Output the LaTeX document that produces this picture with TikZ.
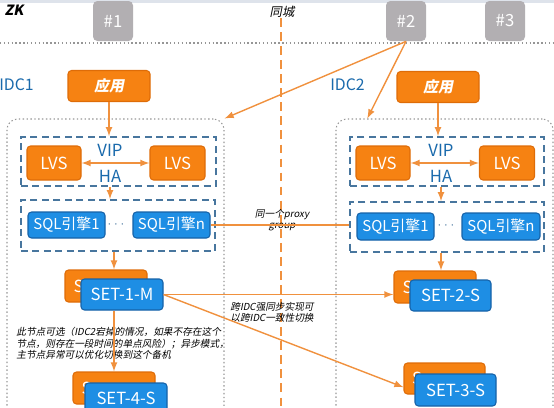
\documentclass[tikz,border=0pt]{standalone}
\usepackage{fontspec}
\usepackage{tikz}
\usetikzlibrary{arrows}
\newfontfamily\cjk{Noto Sans CJK SC}
\newfontfamily\cjkit[FakeSlant=0.2]{Noto Sans CJK SC}
\definecolor{orfill}{RGB}{246,130,18}
\definecolor{ordraw}{RGB}{222,108,8}
\definecolor{blfill}{RGB}{30,142,228}
\definecolor{bldraw}{RGB}{22,98,168}
\definecolor{grfill}{RGB}{178,175,178}
\definecolor{grpblue}{RGB}{72,118,158}
\definecolor{dotgray}{RGB}{150,150,150}
\definecolor{lnorange}{RGB}{240,145,62}
\definecolor{lblblue}{RGB}{26,106,172}
\definecolor{topband}{RGB}{222,227,235}

\begin{document}
\begin{tikzpicture}[x=0.02cm, y=-0.02cm, >=latex,
		every node/.style={font=\cjk, inner sep=0pt},
		wh/.style 2 args={minimum width=#1*0.02cm, minimum height=#2*0.02cm},
		gbox/.style={fill=grfill, rounded corners=2.5pt, text=white, font=\cjk\fontsize{9.5}{11}\selectfont},
		obox/.style={fill=orfill, draw=ordraw, line width=0.6pt, rounded corners=2pt, text=white, font=\cjk\fontsize{9.5}{11}\selectfont},
		bbox/.style={fill=blfill, draw=bldraw, line width=0.6pt, rounded corners=2pt, text=white, font=\cjk\fontsize{9.5}{11}\selectfont},
		sqlbox/.style={bbox, font=\cjk\fontsize{8.5}{10}\selectfont},
		appbox/.style={obox, font=\cjkit\bfseries\fontsize{8.5}{10}\selectfont},
		grp/.style={draw=grpblue, line width=0.9pt, dash pattern=on 4pt off 2.5pt},
		dc/.style={draw=dotgray, line width=0.6pt, dash pattern=on 0.8pt off 1.4pt, rounded corners=6pt},
		lbl/.style={text=lblblue, font=\cjk\fontsize{9}{11}\selectfont},
		gap/.style={text=grpblue, font=\fontsize{7}{8}\selectfont},
		note/.style={font=\cjkit\fontsize{5.5}{6.6}\selectfont, align=left},
		link/.style={draw=lnorange, line width=0.8pt},
	]
		\clip (0,0) rectangle (554,407);
		\fill[topband] (0,0) rectangle (554,3);
		
		\node[font=\cjkit\bfseries\fontsize{8}{10}\selectfont] (zk) at (14,10) {ZK};
		\node[font=\cjkit\fontsize{7}{9}\selectfont] (city) at (282,12) {同城};
		\node[gbox, wh={40}{40}] (n1) at (113,21) {\#1};
		\node[gbox, wh={40}{40}] (n2) at (406,21) {\#2};
		\node[gbox, wh={40}{40}] (n3) at (505,21) {\#3};
		
		\draw[dotgray, line width=0.6pt, dash pattern=on 0.8pt off 1.4pt] (0,43) -- (554,43);
		
		\node[dc, wh={217}{302}] (dc1) at (115.5,270) {};
		\node[dc, wh={217}{302}] (dc2) at (444.5,270) {};
		
		\draw[lnorange, line width=0.8pt, dash pattern=on 5pt off 3pt] (281,18) -- (281,410);
		
		\node[lbl, anchor=west] (idc1) at (-1,85) {IDC1};
		\node[lbl, anchor=west] (idc2) at (330,85) {IDC2};
		
		\node[appbox, wh={82}{31}] (app1) at (109,86) {应用};
		\node[appbox, wh={82}{31}] (app2) at (438,87) {应用};
		
		\node[grp, wh={195}{49}] (lvsg1) at (118.5,161.5) {};
		\node[obox, wh={54}{34}] (lvs1a) at (54,163) {LVS};
		\node[obox, wh={55}{34}] (lvs1b) at (177.5,163) {LVS};
		\node[lbl, font=\cjk\fontsize{9.5}{11}\selectfont] (vip1) at (110,150) {VIP};
		\node[lbl, font=\cjk\fontsize{9.5}{11}\selectfont] (ha1) at (110,176) {HA};
		
		\node[grp, wh={194}{49}] (lvsg2) at (447,161.5) {};
		\node[obox, wh={54}{34}] (lvs2a) at (383,163) {LVS};
		\node[obox, wh={55}{34}] (lvs2b) at (507,163) {LVS};
		\node[lbl, font=\cjk\fontsize{9.5}{11}\selectfont] (vip2) at (441,150) {VIP};
		\node[lbl, font=\cjk\fontsize{9.5}{11}\selectfont] (ha2) at (441,176) {HA};
		
		\node[grp, wh={194}{51}] (sqlg1) at (118,225.5) {};
		\node[sqlbox, wh={77}{26}] (sql1a) at (66.5,225) {SQL引擎1};
		\node[sqlbox, wh={77}{26}] (sql1n) at (171.5,225) {SQL引擎n};
		\node[gap] (dots1) at (116,225) {$\cdots$};
		
		\node[grp, wh={194}{50}] (sqlg2) at (447,227) {};
		\node[sqlbox, wh={77}{27}] (sql2a) at (395.5,226.5) {SQL引擎1};
		\node[sqlbox, wh={78}{27}] (sql2n) at (501,226.5) {SQL引擎n};
		\node[gap] (dots2) at (446,226) {$\cdots$};
		
		\node[obox, wh={82}{32}] (set1b) at (106,286) {S\hspace*{1.1cm}};
		\node[bbox, wh={82}{31}] (set1) at (122,294.5) {SET-1-M};
		\node[obox, wh={82}{32}] (set2b) at (435,287) {S\hspace*{1.1cm}};
		\node[bbox, wh={81}{31}] (set2) at (450.5,295.5) {SET-2-S};
		\node[obox, wh={81}{31}] (set3b) at (444.5,378.5) {S\hspace*{1.1cm}};
		\node[bbox, wh={81}{32}] (set3) at (455.5,390) {SET-3-S};
		\node[obox, wh={82}{32}] (set4b) at (114,388) {S\hspace*{1.1cm}};
		\node[bbox, wh={82}{31}] (set4) at (126,398.5) {SET-4-S};
		
		\node[note, anchor=west] (note1) at (16,343.5) {此节点可选（IDC2宕掉的情况，如果不存在这个\\节点，则存在一段时间的单点风险）；异步模式，\\主节点异常可以优化切换到这个备机};
		\node[note, anchor=west] (note2) at (230,312.5) {跨IDC强同步实现可\\以跨IDC一致性切换};
		\node[note, align=center] (note3) at (282,220) {同一个proxy\\group};
		
		\draw[link, ->] (n2.south) -- (dc1.north east);
		\draw[link, ->] (n2.south) -- (dc2.117);
		\draw[link, ->] (app1.south) -- (app1.south |- lvsg1.north);
		\draw[link, ->] (app2.south) -- (app2.south |- lvsg2.north);
		\draw[link, <->] (lvs1a) -- (lvs1b);
		\draw[link, <->] (lvs2a) -- (lvs2b);
		\draw[link, ->] (lvsg1.south -| vip1) -- (sqlg1.north -| vip1);
		\draw[link, ->] (lvsg2.south -| vip2) -- (sqlg2.north -| vip2);
		\draw[link] (sql1n.east) -- (sql1n.east -| sqlg2.west);
		\draw[link, ->] (sqlg1.south -| set4b) -- (set1b.north -| set4b);
		\draw[link, ->] (sqlg2.south -| vip2) -- (set2b.north -| vip2);
		\draw[link, ->] (set1.south -| set4b) -- (set4b.north);
		\draw[link, ->] (set1.east) -- (set1.east -| set2b.west);
		\draw[link, ->] (set1.east) -- (set3b.192);
	\end{tikzpicture}
\end{document}
